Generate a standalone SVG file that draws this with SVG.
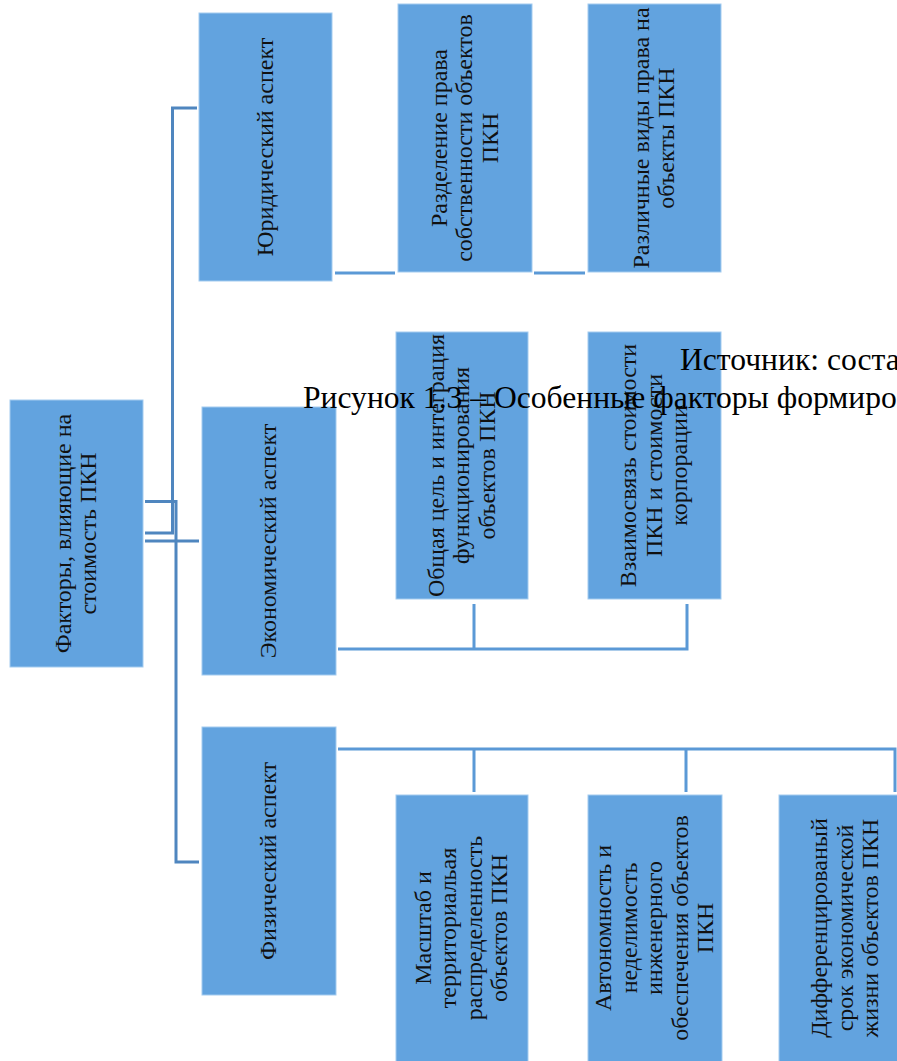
<svg xmlns="http://www.w3.org/2000/svg" width="897" height="1061" viewBox="0 0 897 1061">
<style>
.box{fill:#62a3df;stroke:#a3cbef;stroke-width:1}
.t{font-family:"Liberation Serif","Times New Roman",serif;font-size:24px;fill:#111;text-anchor:middle}
.c1{fill:none;stroke:#4f86bf;stroke-width:3}
.c2{fill:none;stroke:#5b99d6;stroke-width:3}
.cap{font-family:"Liberation Serif","Times New Roman",serif;font-size:31.6px;fill:#000}
</style>
<rect width="897" height="1061" fill="#fff"/>
<g id="connectors">
<path class="c1" d="M145,533 H172.5 V108 H197"/>
<path class="c1" d="M145,501.5 H176 V862 H199"/>
<path class="c1" d="M145,541 H199"/>
<path class="c2" d="M335,273 H395"/>
<path class="c2" d="M534,273 H585"/>
<path class="c2" d="M338,649 H687 V604 M474,649 V604"/>
<path class="c2" d="M338,749 H895 V792 M474,749 V792 M686,749 V792"/>
</g>
<g id="root">
<rect class="box" x="10" y="400" width="133" height="267"/>
<g transform="translate(76.5,533.5) rotate(-90)"><text class="t" x="0" y="-5.55">Факторы, влияющие на</text><text class="t" x="0" y="19.95">стоимость ПКН</text></g>
</g>
<g id="legal">
<rect class="box" x="199" y="13" width="133" height="268"/>
<g transform="translate(265.5,147) rotate(-90)"><text class="t" x="0" y="7.2">Юридический аспект</text></g>
</g>
<g id="legal1">
<rect class="box" x="398" y="4" width="134" height="268"/>
<g transform="translate(465,138) rotate(-90)"><text class="t" x="0" y="-18.3">Разделение права</text><text class="t" x="0" y="7.2">собственности объектов</text><text class="t" x="0" y="32.7">ПКН</text></g>
</g>
<g id="legal2">
<rect class="box" x="588" y="4" width="133" height="268"/>
<g transform="translate(654.5,138) rotate(-90)"><text class="t" x="0" y="-5.55">Различные виды права на</text><text class="t" x="0" y="19.95">объекты ПКН</text></g>
</g>
<g id="economic">
<rect class="box" x="202" y="407" width="134" height="268"/>
<g transform="translate(269,541) rotate(-90)"><text class="t" x="0" y="7.2">Экономический аспект</text></g>
</g>
<g id="economic1">
<rect class="box" x="396" y="332" width="132" height="267"/>
<g transform="translate(462,465.5) rotate(-90)"><text class="t" x="0" y="-18.3">Общая цель и интеграция</text><text class="t" x="0" y="7.2">функционирования</text><text class="t" x="0" y="32.7">объектов ПКН</text></g>
</g>
<g id="economic2">
<rect class="box" x="588" y="332" width="133" height="267"/>
<g transform="translate(654.5,465.5) rotate(-90)"><text class="t" x="0" y="-18.3">Взаимосвязь стоимости</text><text class="t" x="0" y="7.2">ПКН и стоимости</text><text class="t" x="0" y="32.7">корпорации</text></g>
</g>
<g id="physical">
<rect class="box" x="202" y="727" width="134" height="268"/>
<g transform="translate(269,861) rotate(-90)"><text class="t" x="0" y="7.2">Физический аспект</text></g>
</g>
<g id="physical1">
<rect class="box" x="396" y="795" width="132" height="267"/>
<g transform="translate(462,928) rotate(-90)"><text class="t" x="0" y="-31.05">Масштаб и</text><text class="t" x="0" y="-5.55">территориальая</text><text class="t" x="0" y="19.95">распределенность</text><text class="t" x="0" y="45.45">объектов ПКН</text></g>
</g>
<g id="physical2">
<rect class="box" x="588" y="795" width="134" height="267"/>
<g transform="translate(655,928) rotate(-90)"><text class="t" x="0" y="-43.8">Автономность и</text><text class="t" x="0" y="-18.3">неделимость</text><text class="t" x="0" y="7.2">инженерного</text><text class="t" x="0" y="32.7">обеспечения объектов</text><text class="t" x="0" y="58.2">ПКН</text></g>
</g>
<g id="physical3">
<rect class="box" x="779" y="795" width="133" height="267"/>
<g transform="translate(845.5,928) rotate(-90)"><text class="t" x="0" y="-18.3">Дифференцированый</text><text class="t" x="0" y="7.2">срок экономической</text><text class="t" x="0" y="32.7">жизни объектов ПКН</text></g>
</g>
<g id="caption">
<text class="cap" x="680" y="370">Источник: соста</text>
<text class="cap" x="303" y="408">Рисунок 1.3 – Особенные факторы формиро</text>
</g>
</svg>
